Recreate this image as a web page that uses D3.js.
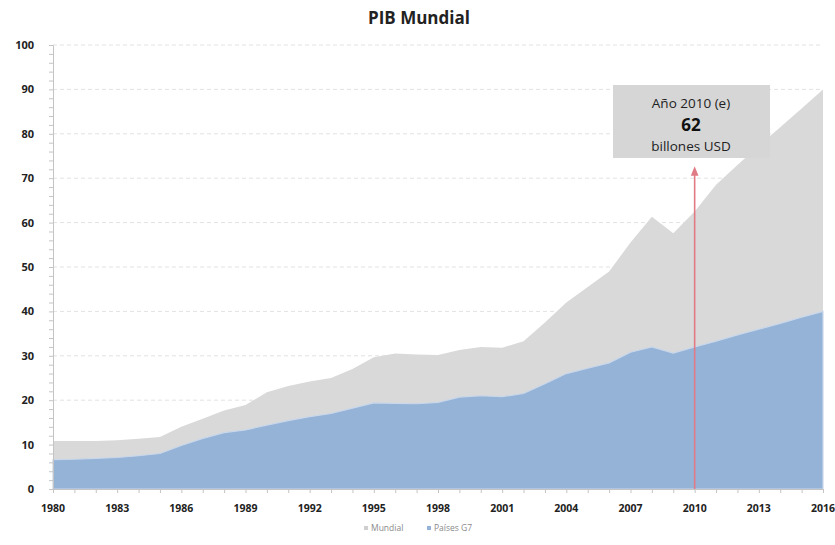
<!DOCTYPE html>
<html><head><meta charset="utf-8">
<script src="https://cdn.jsdelivr.net/npm/d3@7"></script>
<style>body{margin:0;background:#fff;font-family:"Open Sans",sans-serif}</style>
</head><body><svg id="c" width="835" height="545"></svg>
<script>
const years = d3.range(1980, 2017);
const mundial = [10.8,10.8,10.8,11,11.3,11.7,14,15.8,17.7,18.9,21.8,23.2,24.2,25,27,29.7,30.5,30.3,30.2,31.3,32,31.8,33.3,37.5,42,45.5,49,55.5,61.3,57.6,62.5,68.5,73,77.3,81.5,85.7,90];
const g7 = [6.6,6.7,6.9,7.1,7.5,8,9.8,11.4,12.7,13.3,14.4,15.4,16.3,17,18.2,19.4,19.3,19.2,19.5,20.7,21,20.8,21.5,23.7,26,27.2,28.4,30.8,32,30.6,32,33.3,34.7,36,37.3,38.7,40];
const xTickYears = [1980,1983,1986,1989,1992,1995,1998,2001,2004,2007,2010,2013,2016];
const yTicks = [0,10,20,30,40,50,60,70,80,90,100];
const seriesNames = ["Mundial","Países G7"];
const colors = ["#d9d9d9","#95b3d7"];
const annYear = 2010, annLines = ["Año 2010 (e)","62","billones USD"];

const svg = d3.select("#c");
const x = d3.scaleLinear().domain([1980,2016]).range([53,823]);
const y = d3.scaleLinear().domain([0,100]).range([489,45]);

// title
svg.append("text").attr("x",419).attr("y",24).attr("text-anchor","middle")
  .attr("font-size",17).attr("font-weight","bold").attr("fill","#222").text("PIB Mundial");

// grid
svg.append("g").selectAll("line").data(yTicks.slice(1)).join("line")
  .attr("x1",53).attr("x2",823).attr("y1",d=>y(d)).attr("y2",d=>y(d))
  .attr("stroke","#e2e2e2").attr("stroke-dasharray","4,3");

const data = years.map((yr,i)=>({yr, m:mundial[i], g:g7[i]}));
svg.append("path").datum(data).attr("fill",colors[0])
  .attr("d", d3.area().x(d=>x(d.yr)).y0(y(0)).y1(d=>y(d.m)));
svg.append("path").datum(data).attr("fill",colors[1])
  .attr("stroke","#c9d7ea").attr("stroke-width",1.2)
  .attr("d", d3.area().x(d=>x(d.yr)).y0(y(0)).y1(d=>y(d.g)));

// y axis
const ya = svg.append("g").attr("transform","translate(53,0)")
  .call(d3.axisLeft(y).tickValues(d3.range(0,101,2)).tickSize(4).tickFormat(""));
ya.selectAll("path,line").attr("stroke","#c4c4c4");
svg.append("g").selectAll("text").data(yTicks).join("text")
  .attr("x",34).attr("y",d=>y(d)+4).attr("text-anchor","end")
  .attr("font-size",11).attr("font-weight","bold").attr("fill","#222").text(d=>d);

// x axis
const xa = svg.append("g").attr("transform","translate(0,489)")
  .call(d3.axisBottom(x).tickValues(years).tickSize(4).tickFormat(""));
xa.selectAll("path,line").attr("stroke","#c4c4c4");
svg.append("g").selectAll("text").data(xTickYears).join("text")
  .attr("x",d=>x(d)).attr("y",512).attr("text-anchor","middle")
  .attr("font-size",10.5).attr("font-weight","bold").attr("fill","#222").text(d=>d);

// annotation arrow
svg.append("defs").append("marker").attr("id","ah").attr("viewBox","0 0 10 10")
  .attr("refX",5).attr("refY",5).attr("markerWidth",6).attr("markerHeight",6).attr("orient","auto")
  .append("path").attr("d","M0,1 L10,5 L0,9 z").attr("fill","#e07a85");
svg.append("line").attr("x1",x(annYear)).attr("x2",x(annYear)).attr("y1",y(0)).attr("y2",171)
  .attr("stroke","#e07a85").attr("stroke-width",1.6).attr("marker-end","url(#ah)");

// annotation box
svg.append("rect").attr("x",613).attr("y",85).attr("width",157).attr("height",73).attr("fill","#d6d6d6");
svg.append("text").attr("x",691).attr("y",108).attr("text-anchor","middle").attr("font-size",13.5).attr("fill","#222").text(annLines[0]);
svg.append("text").attr("x",691).attr("y",131).attr("text-anchor","middle").attr("font-size",17).attr("font-weight","bold").attr("fill","#111").text(annLines[1]);
svg.append("text").attr("x",691).attr("y",151).attr("text-anchor","middle").attr("font-size",13.5).attr("fill","#222").text(annLines[2]);

// legend
const lg = svg.append("g");
const lx = [364, 427];
seriesNames.forEach((n,i)=>{
  lg.append("rect").attr("x",lx[i]).attr("y",526).attr("width",4).attr("height",4).attr("fill",colors[i]==="#d9d9d9"?"#cfcfcf":colors[i]);
  lg.append("text").attr("x",lx[i]+7).attr("y",531).attr("font-size",8.5).attr("fill","#8a8a8a").text(n);
});
</script></body></html>
